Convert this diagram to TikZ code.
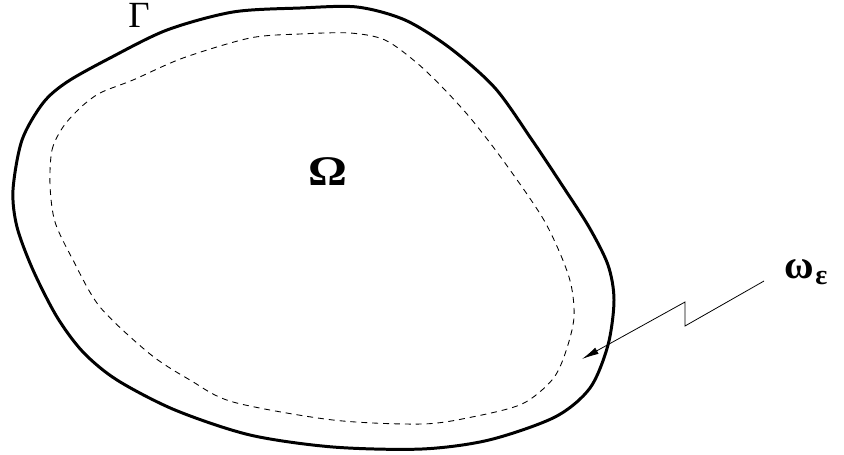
\documentclass[tikz,border=0pt]{standalone}
\usepackage{fontspec}
\setmainfont{Liberation Serif}
\usepackage{tikz}
\usetikzlibrary{arrows.meta}
\tikzset{
  boundary/.style={line width=1.7pt, line join=round},
  inner/.style={line width=0.5pt, dash pattern=on 3.4pt off 2.8pt},
  pointer/.style={-{Latex[length=3.4mm,width=1.4mm]}, line width=0.45pt},
  label/.style={inner sep=0pt},
}
\begin{document}
\begin{tikzpicture}[x=0.02cm, y=-0.02cm]
  \useasboundingbox (0,0) rectangle (844,454);
  % the domain and its boundary
  \draw[boundary] plot[smooth cycle, tension=0.5] coordinates {
    (13,190) (22,140) (43,103) (67,82) (110,58) (167,30) (233,12) (300,8)
    (357,7) (405,20) (450,48) (495,88) (532,140) (562,185) (589,227) (608,265)
    (614,300) (608,345) (590,388) (555,417) (489,440) (422,449) (333,447)
    (250,435) (175,410) (117,380) (83,352) (57,317) (33,270) (17,227)};
  % the strip
  \draw[inner] plot[smooth cycle, tension=0.5] coordinates {
    (50,185) (52,150) (63,127) (80,108) (100,93) (133,80) (183,58) (250,38)
    (300,34) (350,33) (385,40) (417,63) (445,90) (472,120) (505,163) (545,222)
    (569,277) (574,317) (565,354) (552,380) (522,404) (472,417) (422,424)
    (333,420) (233,402) (190,380) (150,354) (100,307) (73,260) (55,222)};
  \node[label, font=\fontsize{21}{21}\selectfont] (gamma) at (139,15) {Γ};
  \node[label, font=\fontsize{24}{24}\selectfont\bfseries, xscale=1.15, transform shape] (omega) at (328,172) {Ω};
  \node[label, font=\fontsize{23}{23}\selectfont\bfseries] (omegaeps) at (799,269) {ω};
  \node[label, font=\fontsize{16}{16}\selectfont\bfseries, anchor=west] (eps) at (815,278) {ε};
  \coordinate (start) at (764,281);
  \coordinate (tip) at (582,359);
  \draw[pointer] (start) -- (685,326) -- (685,302) -- (tip);
\end{tikzpicture}
\end{document}
